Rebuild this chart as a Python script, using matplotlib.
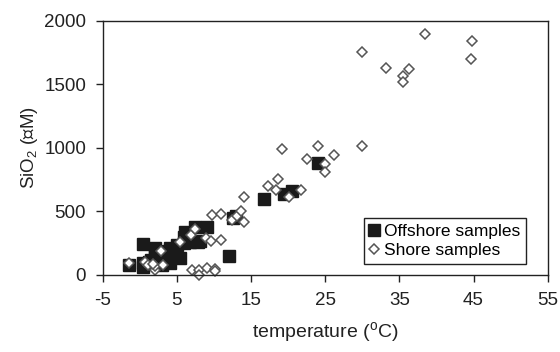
import matplotlib.pyplot as plt

plt.rcParams['font.family'] = ['Liberation Sans', 'DejaVu Sans']
plt.rcParams['mathtext.fontset'] = 'custom'
plt.rcParams['mathtext.rm'] = 'Liberation Sans'
plt.rcParams['mathtext.it'] = 'Liberation Sans'
plt.rcParams['axes.unicode_minus'] = False

# offshore samples (temperature, SiO2)
offshore_t = [-1.5, 0.5, 0.4, 0.4, 1.2, 2.0, 2.0, 2.7, 3.4, 3.85, 4.1, 4.1,
              5.0, 5.4, 5.9, 6.1, 6.0, 6.8, 7.4, 7.9, 8.1, 9.0, 12.0, 12.6,
              13.0, 16.8, 19.4, 20.5, 24.0, 1.5, 2.5, 3.0]
offshore_si = [76, 244, 92, 66, 102, 210, 150, 144, 157, 191, 92, 210,
               236, 136, 249, 341, 300, 262, 375, 262, 270, 375, 152, 446,
               464, 595, 637, 663, 881, 120, 100, 80]

# shore samples
shore_t = [-1.5, 0.7, 1.1, 2.0, 2.1, 2.9, 3.1, 1.8, 5.4, 6.9, 7.4, 7.0, 8.0,
           8.0, 9.0, 10.1, 10.1, 8.9, 9.6, 11.0, 9.7, 11.0, 12.4, 13.1, 13.7,
           14.1, 14.1, 17.3, 18.3, 18.7, 19.2, 20.1, 21.7, 22.6, 24.0, 25.0,
           25.0, 26.2, 30.0, 30.0, 33.2, 35.5, 35.5, 36.3, 38.5, 44.6, 44.8]
shore_si = [94, 103, 75, 38, 73, 187, 80, 84, 262, 313, 359, 36, 40,
            0, 57, 50, 29, 287, 267, 277, 469, 477, 430, 461, 505,
            419, 616, 702, 665, 755, 991, 611, 668, 915, 1017, 873,
            810, 946, 1017, 1751, 1625, 1565, 1515, 1617, 1898, 1699, 1837]

x_ticks = [-5, 5, 15, 25, 35, 45, 55]
y_ticks = [0, 500, 1000, 1500, 2000]

fig = plt.figure(figsize=(5.6, 3.52), dpi=100)
ax = fig.add_axes([0.1834, 0.2188, 0.7946, 0.7224])

ax.plot(offshore_t, offshore_si, 's', ms=8, color='#1a1a1a', mec='#1a1a1a',
        label='Offshore samples', clip_on=False)
ax.plot(shore_t, shore_si, 'D', ms=5, mfc='white', mec='#555555', mew=1.1,
        label='Shore samples', clip_on=False)

ax.set_xlim(-5, 55)
ax.set_ylim(0, 2000)
ax.set_xticks(x_ticks)
ax.set_yticks(y_ticks)
ax.tick_params(direction='out', length=5, width=1, labelsize=13.5,
               colors='#222222', pad=7)
for sp in ax.spines.values():
    sp.set_linewidth(1)
    sp.set_color('#222222')

ax.set_xlabel('temperature ($^{\\rm o}$C)', fontsize=14, color='#222222',
              labelpad=8)
ax.set_ylabel('SiO$_2$ (∝M)', fontsize=13.5, color='#222222', labelpad=3)

leg = ax.legend(loc='lower right', bbox_to_anchor=(0.951, 0.045),
                fontsize=12.5, fancybox=False, framealpha=1,
                edgecolor='#222222', handlelength=0.6, handletextpad=0.3,
                borderpad=0.3, labelspacing=0.25, borderaxespad=0)
leg.get_frame().set_linewidth(1)

fig.savefig('out.png', dpi=100)
